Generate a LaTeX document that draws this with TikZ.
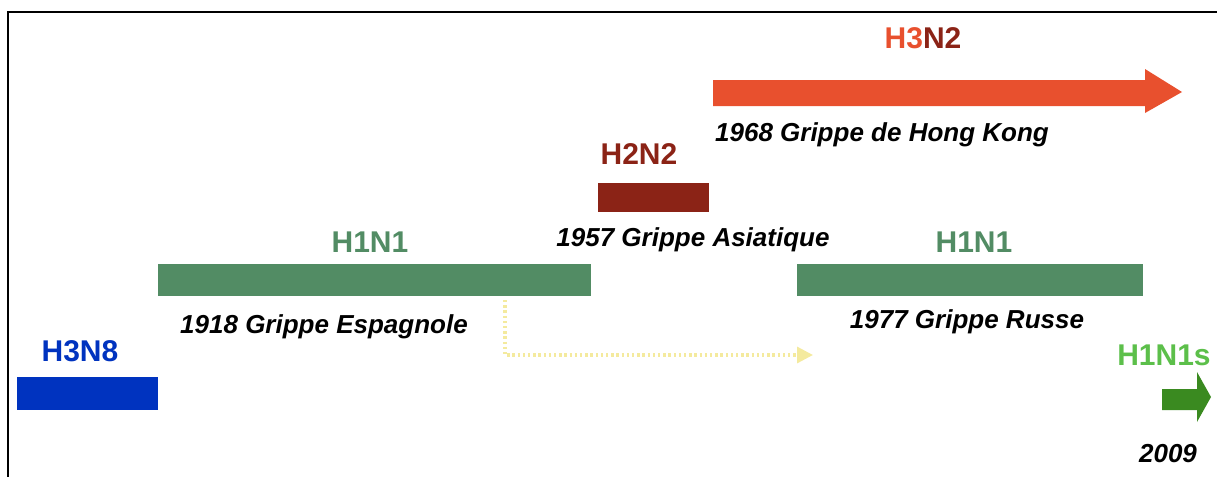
\documentclass[tikz,border=0pt]{standalone}
\usepackage{fontspec}
\setmainfont{Liberation Sans}
\usetikzlibrary{arrows.meta}
\definecolor{hblue}{HTML}{0033BF}
\definecolor{hgreen}{HTML}{528C64}
\definecolor{hdred}{HTML}{8B2316}
\definecolor{horange}{HTML}{E8502E}
\definecolor{hlgreen}{HTML}{5CBF4A}
\definecolor{hdgreen}{HTML}{3A8A20}
\definecolor{hyellow}{HTML}{F4EA9E}
\begin{document}
\begin{tikzpicture}[x=0.5pt,y=-0.5pt,
  lab/.style={font=\fontsize{15}{18}\selectfont\bfseries, anchor=base, inner sep=0pt},
  capt/.style={font=\fontsize{13}{16}\selectfont\bfseries\itshape, anchor=base, inner sep=0pt},
  frameline/.style={line width=1.3pt, black},
  dotline/.style={hyellow, line width=1.6pt, dash pattern=on 1.2pt off 1.4pt, -{Triangle[length=8pt,width=8pt]}}]
\useasboundingbox (0,0) rectangle (1217,477);
% frame
\draw[frameline] (8,477) -- (8,12) -- (1217,12);
% bars
\fill[hblue] (17,377) rectangle (158,410);
\fill[hgreen] (158,264) rectangle (591,296);
\fill[hdred] (598,183) rectangle (709,212);
\fill[hgreen] (797,264) rectangle (1143,296);
% arrows
\fill[horange] (713,80) -- (1145,80) -- (1145,69) -- (1182,92) -- (1145,113) -- (1145,106) -- (713,106) -- cycle;
\fill[hdgreen] (1162,389) -- (1197,389) -- (1197,372) -- (1211,397) -- (1197,422) -- (1197,410) -- (1162,410) -- cycle;
% dotted connector
\coordinate (dstart) at (505,300);
\coordinate (dcorner) at (505,355);
\coordinate (dend) at (813,355);
\draw[dotline] (dstart) -- (dcorner) -- (dend);
% labels
\node[lab, text=hblue] (lh3n8) at (80,361) {H3N8};
\node[lab, text=hgreen] (lh1n1a) at (370,252) {H1N1};
\node[lab, text=hdred] (lh2n2) at (639,164) {H2N2};
\node[lab] (lh3n2) at (923,48) {\textcolor{horange}{H3}\textcolor{hdred}{N2}};
\node[lab, text=hgreen] (lh1n1b) at (974,252) {H1N1};
\node[lab, text=hlgreen] (lh1n1s) at (1164,365) {H1N1s};
% captions
\node[capt] (c1918) at (324,333) {1918 Grippe Espagnole};
\node[capt] (c1957) at (693,246) {1957 Grippe Asiatique};
\node[capt] (c1968) at (882,141) {1968 Grippe de Hong Kong};
\node[capt] (c1977) at (967,328) {1977 Grippe Russe};
\node[capt] (c2009) at (1168,462) {2009};
\end{tikzpicture}
\end{document}
